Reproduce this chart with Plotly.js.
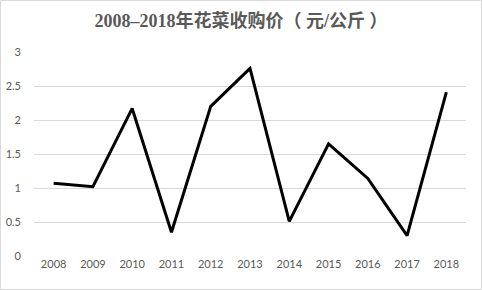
<!DOCTYPE html>
<html><head><meta charset="utf-8">
<script src="https://cdn.plot.ly/plotly-3.0.1.min.js"></script>
<style>html,body{margin:0;padding:0;background:#fff}#c{width:482px;height:290px}</style>
</head><body><div id="c"></div>
<script>
const years = ['2008','2009','2010','2011','2012','2013','2014','2015','2016','2017','2018'];
const prices = [1.07, 1.02, 2.17, 0.35, 2.2, 2.76, 0.51, 1.65, 1.14, 0.3, 2.41];
const yTicks = [0, 0.5, 1, 1.5, 2, 2.5, 3];
const yTickText = ['0', '0.5', '1', '1.5', '2', '2.5', '3'];

Plotly.newPlot('c', [{
  x: years, y: prices, type: 'scatter', mode: 'lines',
  line: {color: '#000000', width: 3}, hoverinfo: 'skip'
}], {
  width: 482, height: 290,
  margin: {l: 34, r: 16, t: 52, b: 34},
  paper_bgcolor: '#fff', plot_bgcolor: '#fff',
  showlegend: false,
  title: {text: '<b>2008–2018年花菜收购价（ 元/公斤 ）</b>', x: 0.5, xanchor: 'center', y: 0.93, yanchor: 'middle',
    font: {family: 'Liberation Serif, Noto Sans CJK SC', size: 18, color: '#595959'}},
  xaxis: {type: 'category', range: [-0.5, 10.5], showgrid: false, zeroline: false, showline: false,
    ticks: '', tickfont: {family: 'Lato, Liberation Sans', size: 11, color: '#595959'}},
  yaxis: {range: [0, 3], tickvals: yTicks, ticktext: yTickText, showgrid: true, gridcolor: '#d9d9d9', gridwidth: 1,
    zeroline: false, showline: false, ticks: '', ticklabelstandoff: 12,
    tickfont: {family: 'Lato, Liberation Sans', size: 11, color: '#595959'}},
  shapes: [{type: 'rect', xref: 'paper', yref: 'paper', x0: -33.5/432, x1: 1 + 15.5/432, y0: -33.5/204, y1: 1 + 51.5/204,
    line: {color: '#d9d9d9', width: 1}}]
}, {staticPlot: true});
</script></body></html>
